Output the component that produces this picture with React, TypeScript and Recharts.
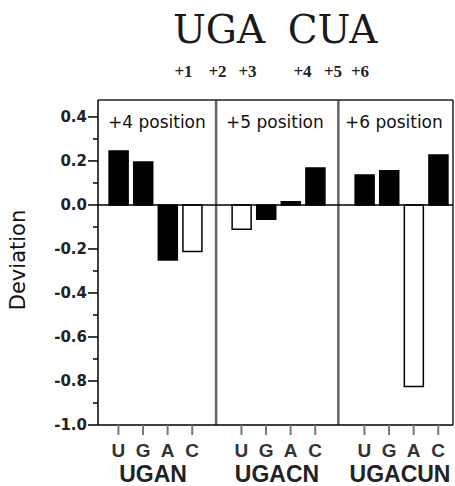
import React from 'react';
import { ComposedChart, Bar, Cell, XAxis, YAxis, ReferenceLine } from 'recharts';

const categories = ['U', 'G', 'A', 'C'];
const groups = ['UGAN', 'UGACN', 'UGACUN'];
const panelLabels = ['+4 position', '+5 position', '+6 position'];
const consensus = ['C', 'U', 'A'];
const pos4 = [0.245, 0.195, -0.25, -0.212];
const pos5 = [-0.11, -0.065, 0.015, 0.168];
const pos6 = [0.136, 0.155, -0.825, 0.227];
const titleWords = ['UGA', 'CUA'];
const positionLabels = ['+1', '+2', '+3', '+4', '+5', '+6'];
const yTicks = [-1, -0.9, -0.8, -0.7, -0.6, -0.5, -0.4, -0.3, -0.2, -0.1, 0, 0.1, 0.2, 0.3, 0.4];

const series = [pos4, pos5, pos6];
const data = series.flatMap((vals, p) =>
  vals.map((v, i) => ({
    x: p * 5 + i,
    value: v,
    hollow: categories[i] === consensus[p],
  }))
);
const xTicks = data.map((d) => d.x);

const X_MIN = -0.83;
const X_MAX = 13.6;
const Y_MAX = 0.477;

const sans = "'DejaVu Sans', Verdana, sans-serif";
const narrow = "'Liberation Sans Narrow', 'Liberation Sans', Arial, sans-serif";

const YTick = (props: any) => {
  const { x, y, payload } = props;
  const v = Math.round(payload.value * 10);
  const major = v % 2 === 0;
  return (
    <g>
      <line x1={x - (major ? 10 : 5)} x2={x} y1={y} y2={y} stroke="#000" strokeWidth={1.5} />
      {major && (
        <text x={x - 11} y={y} dy="0.36em" textAnchor="end" fontFamily={sans} fontWeight="bold" fontSize={15} fill="#222">
          {(v / 10).toFixed(1)}
        </text>
      )}
    </g>
  );
};

const XTick = (props: any) => {
  const { x, payload } = props;
  return (
    <text x={x} y={457} textAnchor="middle" fontFamily={narrow} fontWeight="bold" fontSize={19} fill="#333">
      {categories[payload.value % 5]}
    </text>
  );
};

export default function App() {
  return (
    <div style={{ position: 'absolute', left: 0, top: 0, width: 455, height: 486, background: '#fff' }}>
      <ComposedChart width={455} height={486} data={data} margin={{ top: 100, right: 2, bottom: 31, left: 38 }}>
        <XAxis
          type="number"
          dataKey="x"
          domain={[X_MIN, X_MAX]}
          ticks={xTicks}
          interval={0}
          allowDataOverflow
          height={30}
          tickSize={10}
          tickLine={{ stroke: '#777', strokeWidth: 2 }}
          axisLine={{ stroke: '#000', strokeWidth: 1.5 }}
          tick={<XTick />}
        />
        <YAxis
          type="number"
          domain={[-1, Y_MAX]}
          ticks={yTicks}
          interval={0}
          allowDataOverflow
          width={60}
          tickSize={0}
          tickMargin={0}
          tickLine={false}
          axisLine={{ stroke: '#000', strokeWidth: 1.5 }}
          tick={<YTick />}
        />
        <ReferenceLine x={3.97} stroke="#666" strokeWidth={2.5} />
        <ReferenceLine x={8.94} stroke="#666" strokeWidth={2.5} />
        <ReferenceLine y={Y_MAX} stroke="#222" strokeWidth={1.5} />
        <ReferenceLine x={X_MAX} stroke="#222" strokeWidth={1.5} />
        <Bar dataKey="value" barSize={19} isAnimationActive={false} stroke="#000" strokeWidth={1.5}>
          {data.map((d, i) => (
            <Cell key={i} fill={d.hollow ? '#fff' : '#000'} />
          ))}
        </Bar>
        <ReferenceLine y={0} stroke="#000" strokeWidth={1.5} />
      </ComposedChart>
      <svg width={455} height={486} style={{ position: 'absolute', left: 0, top: 0, pointerEvents: 'none' }}>
        <text x={219} y={43} textAnchor="middle" fontFamily="'DejaVu Serif', serif" fontSize={39} fill="#1a1a1a">
          {titleWords[0]}
        </text>
        <text x={332.5} y={43} textAnchor="middle" fontFamily="'DejaVu Serif', serif" fontSize={39} fill="#1a1a1a">
          {titleWords[1]}
        </text>
        {positionLabels.map((t, i) => (
          <text
            key={t}
            x={[183.5, 217.5, 247.5, 302.5, 333, 360][i]}
            y={77}
            textAnchor="middle"
            fontFamily="'Liberation Serif', serif"
            fontSize={17}
            fontWeight="bold"
            fill="#222"
          >
            {t}
          </text>
        ))}
        {panelLabels.map((t, i) => (
          <text key={t} x={[108, 226, 345][i]} y={128} fontFamily={sans} fontSize={17} fill="#111">
            {t}
          </text>
        ))}
        {groups.map((t, i) => (
          <text
            key={t}
            x={[153, 277, 400][i]}
            y={482}
            textAnchor="middle"
            fontFamily={narrow}
            fontWeight="bold"
            fontSize={23}
            fill="#222"
          >
            {t}
          </text>
        ))}
        <text
          x={25}
          y={260}
          transform="rotate(-90 25 260)"
          textAnchor="middle"
          fontFamily={sans}
          fontSize={21}
          fill="#111"
        >
          Deviation
        </text>
      </svg>
    </div>
  );
}
